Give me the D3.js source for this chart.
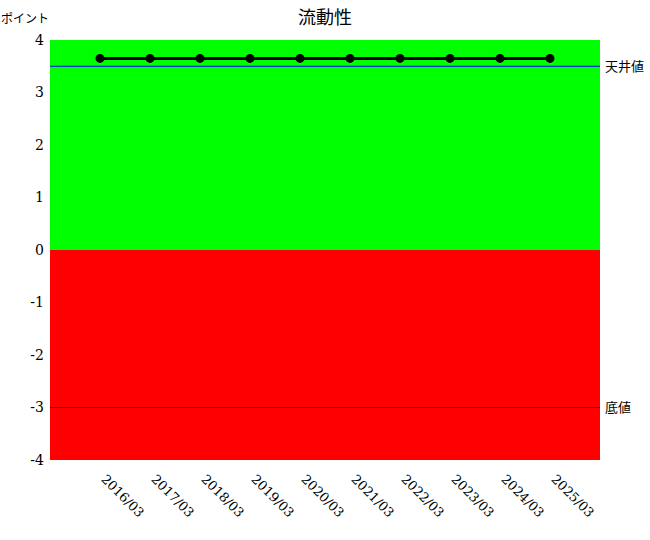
<!DOCTYPE html>
<html>
<head>
<meta charset="utf-8">
<script src="https://cdn.jsdelivr.net/npm/d3@7"></script>
<style>
body{margin:0;background:#fff;}
</style>
</head>
<body>
<div id="chart"></div>
<script>
var periods = ["2016/03","2017/03","2018/03","2019/03","2020/03","2021/03","2022/03","2023/03","2024/03","2025/03"];
var values = [3.65,3.65,3.65,3.65,3.65,3.65,3.65,3.65,3.65,3.65];
var yTicks = [4,3,2,1,0,-1,-2,-3,-4];
var ceilingValue = 3.5;
var floorValue = -3;

var serif = 'DejaVu Serif';
var jpFont = '"Noto Sans CJK JP","Noto Sans",sans-serif';

var width = 650, height = 540;
var margin = {left:50, top:40, right:50, bottom:80};
var w = width - margin.left - margin.right;
var h = height - margin.top - margin.bottom;

var svg = d3.select('#chart').append('svg')
	.attr('width', width).attr('height', height);

var g = svg.append('g').attr('transform', "translate("+margin.left+","+margin.top+")");

var x = d3.scalePoint().domain(periods).range([0, w]).padding(1);
var y = d3.scaleLinear().domain([-4, 4]).range([h, 0]);

// 背景 (正=緑, 負=赤)
g.append('rect').attr('x',0).attr('y',y(4)).attr('width',w).attr('height',y(0)-y(4)).attr('fill','#00ff00');
g.append('rect').attr('x',0).attr('y',y(0)).attr('width',w).attr('height',y(-4)-y(0)).attr('fill','#ff0000');

// 天井値・底値
[{v:ceilingValue,label:'天井値'},{v:floorValue,label:'底値'}].forEach(function(d){
	g.append('line').attr('x1',0).attr('x2',w)
		.attr('y1',y(d.v)).attr('y2',y(d.v))
		.attr('stroke','#0000ff').attr('stroke-width',1);
	g.append('text')
		.attr('x', w+5).attr('y', y(d.v)).attr('dy','0.35em')
		.style('font-family', jpFont).style('font-size','13px')
		.text(d.label);
});

// y軸
var yAxis = g.append('g').call(d3.axisLeft(y).tickValues(yTicks).tickSize(0).tickPadding(6)
	.tickFormat(function(d){return String(d);}));
yAxis.select('.domain').remove();
yAxis.attr('font-family', serif).attr('font-size', 14);
yAxis.selectAll('text').attr('fill','#000');

// x軸
var xAxis = g.append('g').attr('transform','translate(0,'+h+')')
	.call(d3.axisBottom(x).tickSize(0));
xAxis.select('.domain').remove();
xAxis.attr('font-family', serif).attr('font-size', 13);
xAxis.selectAll('text')
	.attr('fill','#000')
	.attr('y',0).attr('dy',null)
	.attr('transform','translate(0,20) rotate(45)')
	.style('text-anchor','start');

// 折れ線
var line = d3.line().x(function(d,i){return x(periods[i]);}).y(function(d){return y(d);});
g.append('path').datum(values)
	.attr('d', line).attr('fill','none')
	.attr('stroke','#000').attr('stroke-width',3);

g.selectAll('.pt').data(values).enter()
	.append('circle').attr('class','pt')
	.attr('cx',function(d,i){return x(periods[i]);})
	.attr('cy',function(d){return y(d);})
	.attr('r',4.5).attr('fill','#000');

// タイトル
svg.append('text')
	.attr('x', width/2).attr('y', 24)
	.style('text-anchor','middle').style('font-family', jpFont).style('font-size','18px')
	.text('流動性');

svg.append('text')
	.attr('x', 1).attr('y', 23)
	.style('font-family', jpFont).style('font-size','12px')
	.text('ポイント');
</script>
</body>
</html>
